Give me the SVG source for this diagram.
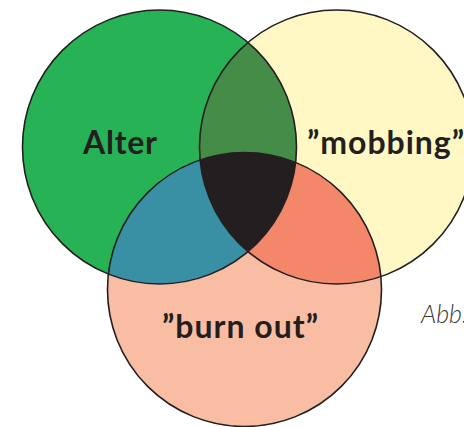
<svg xmlns="http://www.w3.org/2000/svg" width="464" height="427" viewBox="0 0 464 427">
  <style>
    .outline { fill: none; stroke: #231f20; stroke-width: 1.6; }
    .label { font-family: Lato, "Open Sans", "Liberation Sans", sans-serif; font-weight: bold; font-size: 32px; fill: #231f20; }
    .note { font-family: Lato, "Open Sans", "Liberation Sans", sans-serif; font-weight: 300; font-style: italic; font-size: 25px; fill: #3a3a3a; }
  </style>
  <defs>
    <clipPath id="clipA"><circle cx="159.5" cy="147" r="137"/></clipPath>
    <clipPath id="clipB"><circle cx="336.5" cy="147" r="137"/></clipPath>
    <clipPath id="clipC"><circle cx="244.5" cy="289.5" r="137"/></clipPath>
  </defs>
  <rect width="464" height="427" fill="#ffffff"/>
  <g id="alter">
    <circle cx="159.5" cy="147" r="137" fill="#27b355"/>
  </g>
  <g id="mobbing">
    <circle cx="336.5" cy="147" r="137" fill="#fff8c4"/>
  </g>
  <g id="burnout">
    <circle cx="244.5" cy="289.5" r="137" fill="#f9bda4"/>
  </g>
  <g id="overlaps">
    <g clip-path="url(#clipA)"><circle cx="336.5" cy="147" r="137" fill="#448c48"/></g>
    <g clip-path="url(#clipA)"><circle cx="244.5" cy="289.5" r="137" fill="#398fa4"/></g>
    <g clip-path="url(#clipB)"><circle cx="244.5" cy="289.5" r="137" fill="#f4876a"/></g>
    <g clip-path="url(#clipA)"><g clip-path="url(#clipB)"><circle cx="244.5" cy="289.5" r="137" fill="#231f20"/></g></g>
  </g>
  <g id="outlines">
    <circle class="outline" cx="159.5" cy="147" r="137"/>
    <circle class="outline" cx="336.5" cy="147" r="137"/>
    <circle class="outline" cx="244.5" cy="289.5" r="137"/>
  </g>
  <g id="labels">
    <text class="label" x="83" y="154" textLength="74" lengthAdjust="spacing">Alter</text>
    <text class="label" x="307" y="154" textLength="157" lengthAdjust="spacing">”mobbing”</text>
    <text class="label" x="162" y="338" textLength="156" lengthAdjust="spacing">”burn out”</text>
    <text class="note" x="421" y="323">Abb.</text>
  </g>
</svg>
